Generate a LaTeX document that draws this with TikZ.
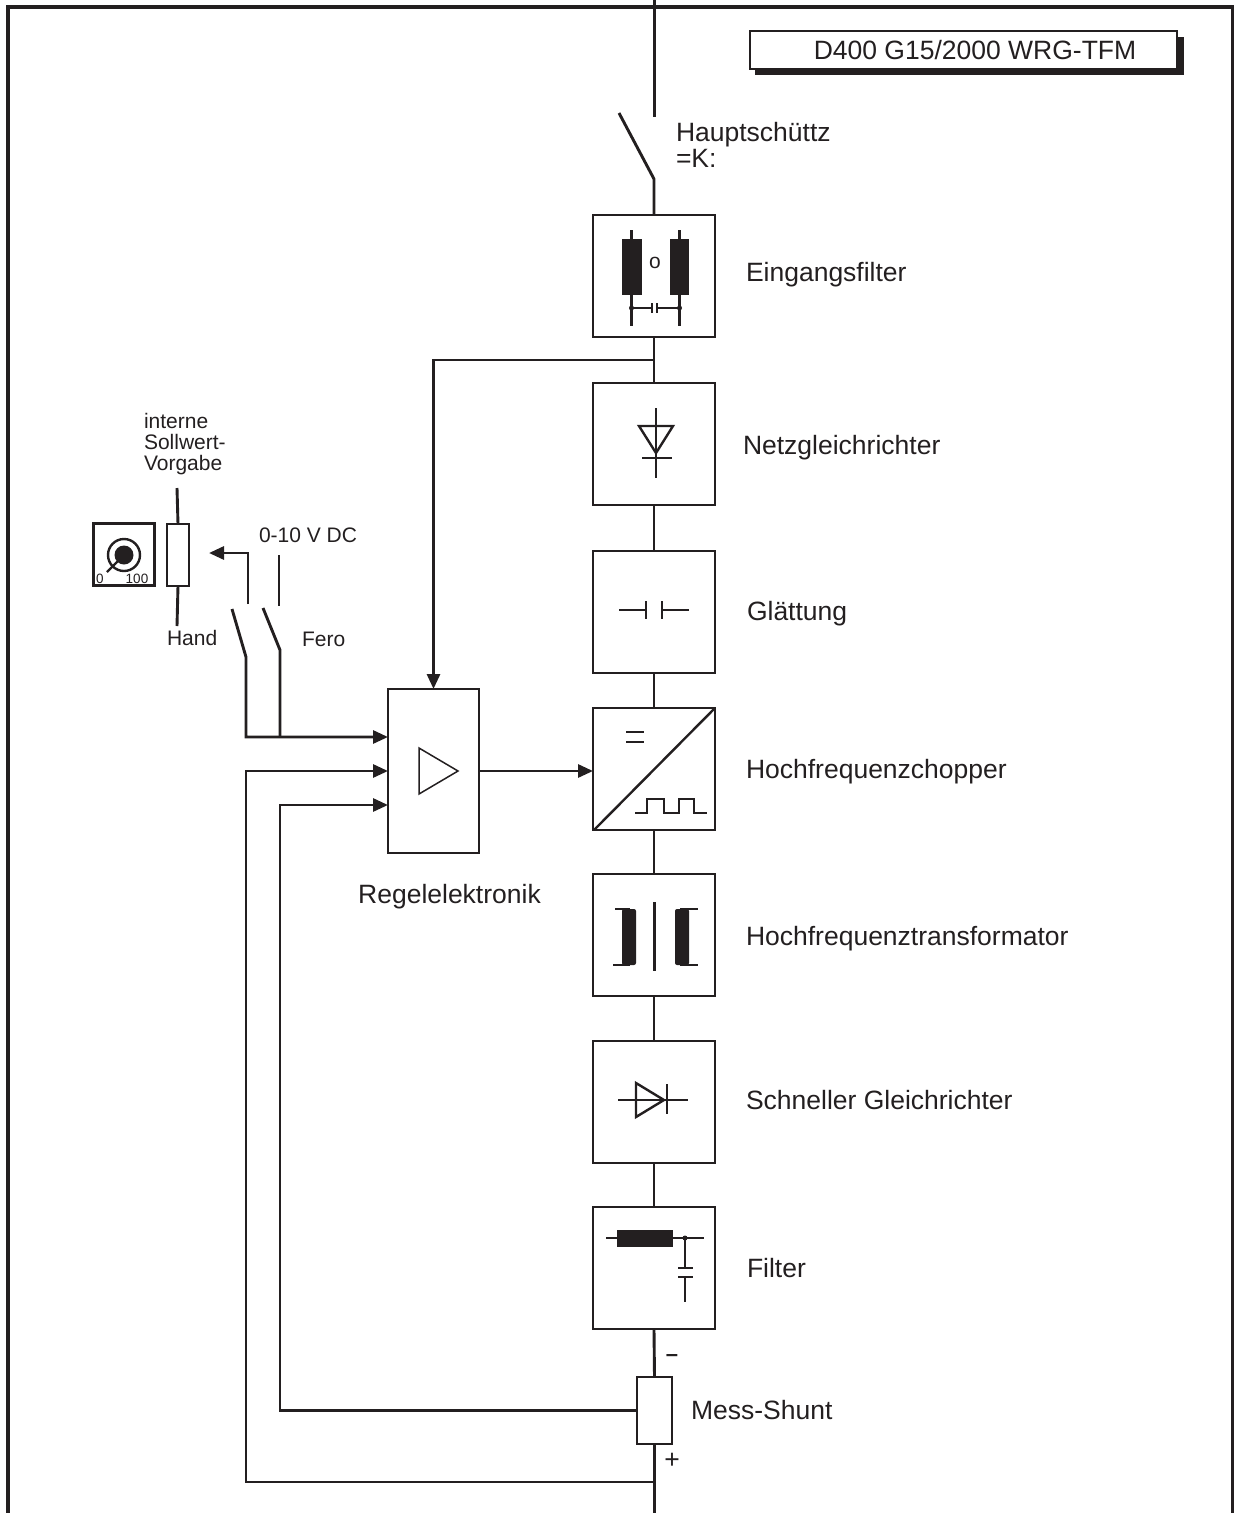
\documentclass[tikz,border=0pt]{standalone}
\usepackage{fontspec}
\setmainfont{Liberation Sans}
\usepackage{xcolor}
\usepackage{tikz}
\usetikzlibrary{arrows.meta,positioning}
\definecolor{ink}{HTML}{231F20}

\begin{document}
\begin{tikzpicture}[
  x=1pt, y=-1pt, color=ink, line width=2.9pt, text=ink,
  node distance=46pt,
  stagebox/.style={draw, minimum width=122pt, minimum height=122pt, outer sep=0pt, inner sep=0pt},
  plainbox/.style={draw, outer sep=0pt, inner sep=0pt},
  sign/.style={inner sep=0pt, outer sep=0pt, font=\fontsize{26.5}{25.5}\selectfont, anchor=west, align=left},
  smalltxt/.style={inner sep=0pt, outer sep=0pt, font=\fontsize{21}{21.3}\selectfont, align=left},
  arr/.style={-{Triangle[length=15pt,width=13pt]}},
  symline/.style={line width=2.4pt}
]
\useasboundingbox (0,0) rectangle (1234,1513);
% frame
\draw[line width=4pt] (7.5,1513) -- (7.5,6.5) -- (1232.5,6.5) -- (1232.5,1513);
% type plate
\fill (755,37) rectangle (1184,75);
\node[plainbox, fill=white, minimum width=427pt, minimum height=38pt,
      font=\fontsize{26.5}{26.5}\selectfont] (plate) at (963.5,50) {\hspace*{23pt}D400 G15/2000 WRG-TFM};
% main column
\node[stagebox] (efilter) at (654,276) {};
\node[stagebox, below=of efilter] (netz) {};
\node[stagebox, below=of netz] (glatt) {};
\node[stagebox, below=35pt of glatt] (chop) {};
\node[stagebox, below=44pt of chop] (trafo) {};
\node[stagebox, below=45pt of trafo] (schnell) {};
\node[stagebox, below=44pt of schnell] (ausfilter) {};
\node[plainbox, minimum width=35pt, minimum height=67pt, below=48pt of ausfilter, xshift=0.5pt] (shunt) {};
\node[plainbox, minimum width=91pt, minimum height=164pt] (regel) at (433.5,771) {};
% labels
\node[sign] (lhaupt) at (676,145) {Hauptschüttz\\=K:};
\node[sign, right=31pt of efilter, yshift=1pt] (lefilter) {Eingangsfilter};
\node[sign, right=28pt of netz, yshift=-4pt] (lnetz) {Netzgleichrichter};
\node[sign, right=32pt of glatt, yshift=-2pt] (lglatt) {Glättung};
\node[sign, right=31pt of chop, yshift=-3pt] (lchop) {Hochfrequenzchopper};
\node[sign, right=31pt of trafo, yshift=-4pt] (ltrafo) {Hochfrequenztransformator};
\node[sign, right=31pt of schnell, yshift=2pt] (lschnell) {Schneller Gleichrichter};
\node[sign, right=32pt of ausfilter] (lausfilter) {Filter};
\node[sign, right=19pt of shunt] (lshunt) {Mess-Shunt};
\node[sign, anchor=center] (lregel) at (449.5,897) {Regelelektronik};
\node[sign, anchor=center, font=\fontsize{22}{22}\bfseries\selectfont] (minus) at (672,1358) {–};
\node[sign, anchor=center] (plus) at (672,1461) {+};
\node[smalltxt, anchor=north west] (lintern) at (144,413) {interne\\Sollwert-\\Vorgabe};
\node[smalltxt, anchor=west] (lvolt) at (259,535) {0-10 V DC};
\node[smalltxt, anchor=west] (lhand) at (167,638) {Hand};
\node[smalltxt, anchor=west] (lfero) at (302,639) {Fero};
% column connectors
\coordinate (intop) at (654.5,0);
\coordinate (swopen) at (654.5,117);
\coordinate (swpiv) at (654,179);
\coordinate (swblade) at (619,113);
\coordinate (tapnetz) at (654,360);
\coordinate (outbot) at (654.5,1513);
\coordinate (tapplus) at (654.5,1482);
\draw (intop) -- (swopen);
\draw (swblade) -- (swpiv) -- (efilter.north);
\draw (efilter.south) -- (netz.north);
\draw (netz.south) -- (glatt.north);
\draw (glatt.south) -- (chop.north);
\draw (chop.south) -- (trafo.north);
\draw (trafo.south) -- (schnell.north);
\draw (schnell.south) -- (ausfilter.north);
\draw (ausfilter.south) -- (shunt.north);
\draw (shunt.south) -- (outbot);
% control loop
\coordinate[above=34pt of regel.west] (inset);
\coordinate[below=34pt of regel.west] (inshunt);
\coordinate (handpiv) at (246,657);
\coordinate (handblade) at (232,609);
\coordinate (feropiv) at (280,650);
\coordinate (feroblade) at (263,608);
\coordinate (handcont) at (248,604);
\coordinate (ferotop) at (279,555);
\coordinate (ferobot) at (279,606);
\coordinate (wipertip) at (209,553);
\draw[arr] (tapnetz) -| (regel.north);
\draw[arr] (regel.east) -- (regel.east -| chop.west);
\draw[arr] (handblade) -- (handpiv) |- (inset);
\draw (feroblade) -- (feropiv) -- (feropiv |- inset);
\draw[arr] (tapplus) -| (246,771) -- (regel.west);
\draw[arr] (shunt.west) -| (280,805) -- (inshunt);
\draw[arr] (handcont) |- (wipertip);
\draw (ferotop) -- (ferobot);
% set point
\node[plainbox, minimum width=22pt, minimum height=62pt] (poti) at (178,555) {};
\node[plainbox, minimum width=61pt, minimum height=62pt] (knobbox) at (124,554.5) {};
\coordinate (potitop) at (177,488);
\coordinate (potibot) at (177,626);
\draw (potitop) -- (poti.north);
\draw (poti.south) -- (potibot);
\draw[symline] (124,555) circle (16);
\fill (124,555) circle (9.5);
\draw[symline] (107,572) -- (124,555);
\node[inner sep=0pt, font=\fontsize{13.5}{13.5}\selectfont] (lnull) at (100,579) {0};
\node[inner sep=0pt, font=\fontsize{13.5}{13.5}\selectfont] (lhundert) at (137,579) {100};
% symbols
\fill (622,239) rectangle (642,295);
\fill (670,239) rectangle (689,295);
\draw[symline] (631.5,230) -- (631.5,326);
\draw[symline] (679.5,230) -- (679.5,326);
\draw[symline] (631.5,308) -- (652,308) (657,308) -- (679.5,308);
\draw[symline] (652,303) -- (652,313) (657,303) -- (657,313);
\fill (631.5,308) circle (2.5) (679.5,308) circle (2.5);
\node[inner sep=0pt, font=\fontsize{21}{21}\selectfont] (lspule) at (655,263) {o};
\draw[symline] (656,408) -- (656,478);
\draw[symline] (639,426) -- (673,426) -- (656,453) -- cycle;
\draw[symline] (642,458) -- (672,458);
\draw[symline] (619,610) -- (646,610) (646,601) -- (646,619);
\draw[symline] (689,610) -- (662,610) (662,601) -- (662,619);
\draw[symline] (594,830) -- (715,708);
\draw[symline] (626,732) -- (644,732) (626,742) -- (644,742);
\draw[symline] (635,813) -- (647,813) -- (647,799) -- (664,799) -- (664,813) -- (679,813) -- (679,799) -- (694,799) -- (694,813) -- (707,813);
\draw[symline] (654.5,902) -- (654.5,971);
\fill[rounded corners=2pt] (622,909) rectangle (636,965);
\fill[rounded corners=2pt] (675,909) rectangle (689,965);
\draw[symline] (615,909) -- (630,909) (613,965) -- (630,965) (680,909) -- (698,909) (680,965) -- (698,965);
\draw[symline] (618,1100) -- (688,1100);
\draw[symline] (636,1083) -- (664,1100) -- (636,1117) -- cycle;
\draw[symline] (667,1084) -- (667,1114);
\fill (617,1230) rectangle (673,1247);
\draw[symline] (606,1238) -- (704,1238);
\fill (685,1238) circle (2.5);
\draw[symline] (685,1238) -- (685,1268) (678,1268) -- (693,1268);
\draw[symline] (678,1277) -- (693,1277) (685,1277) -- (685,1302);
\draw[line width=1.5pt] (419,748) -- (458,771) -- (419,794) -- cycle;
\end{tikzpicture}
\end{document}
